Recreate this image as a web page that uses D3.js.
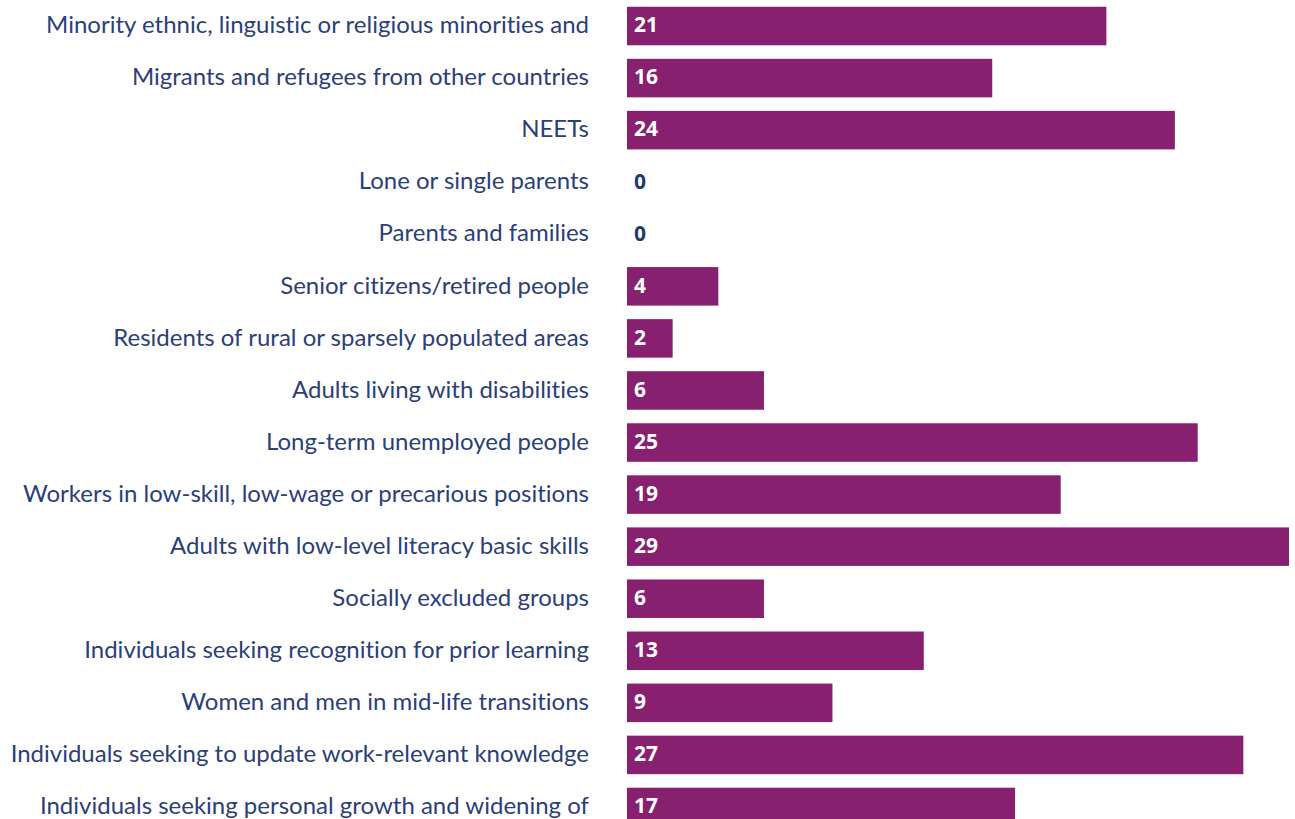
<!DOCTYPE html>
<html>
<head>
<meta charset="utf-8">
<script src="https://cdn.jsdelivr.net/npm/d3@7"></script>
<style>
  html, body { margin: 0; padding: 0; background: #fff; }
  svg { display: block; }
  text { font-variant-ligatures: none; font-feature-settings: "liga" 0; }
</style>
</head>
<body>
<svg id="chart"></svg>
<script>
const width = 1295, height = 819;

const categories = [
  'Minority ethnic, linguistic or religious minorities and',
  'Migrants and refugees from other countries',
  'NEETs',
  'Lone or single parents',
  'Parents and families',
  'Senior citizens/retired people',
  'Residents of rural or sparsely populated areas',
  'Adults living with disabilities',
  'Long-term unemployed people',
  'Workers in low-skill, low-wage or precarious positions',
  'Adults with low-level literacy basic skills',
  'Socially excluded groups',
  'Individuals seeking recognition for prior learning',
  'Women and men in mid-life transitions',
  'Individuals seeking to update work-relevant knowledge',
  'Individuals seeking personal growth and widening of'
];
const values = [21, 16, 24, 0, 0, 4, 2, 6, 25, 19, 29, 6, 13, 9, 27, 17];

const barColor = '#86206f';
const textColor = '#2b4079';

const svg = d3.select('#chart').attr('width', width).attr('height', height);

const x = d3.scaleLinear().domain([0, 29]).range([627, 1289]);
const y = d3.scaleBand().domain(categories).range([0, 833]).paddingInner(0.26).paddingOuter(0.13);

const g = svg.append('g');

g.selectAll('rect.bar')
  .data(values)
  .join('rect')
  .attr('class', 'bar')
  .attr('x', x(0))
  .attr('y', (d, i) => y(categories[i]))
  .attr('width', d => x(d) - x(0))
  .attr('height', y.bandwidth())
  .attr('fill', barColor);

// category labels
g.selectAll('text.cat')
  .data(categories)
  .join('text')
  .attr('class', 'cat')
  .attr('x', 589)
  .attr('y', d => y(d) + y.bandwidth() / 2)
  .attr('dy', '0.3em')
  .attr('text-anchor', 'end')
  .attr('font-family', 'Lato, sans-serif')
  .attr('font-size', 24)
  .attr('fill', textColor)
  .text(d => d);

// value labels
g.selectAll('text.val')
  .data(values)
  .join('text')
  .attr('class', 'val')
  .attr('x', 634)
  .attr('y', (d, i) => y(categories[i]) + y.bandwidth() / 2)
  .attr('dy', '0.3em')
  .attr('font-family', '"Open Sans", sans-serif')
  .attr('font-weight', 700)
  .attr('font-size', 21)
  .attr('fill', d => d === 0 ? '#1f3a70' : '#fff')
  .text(d => d);
</script>
</body>
</html>
